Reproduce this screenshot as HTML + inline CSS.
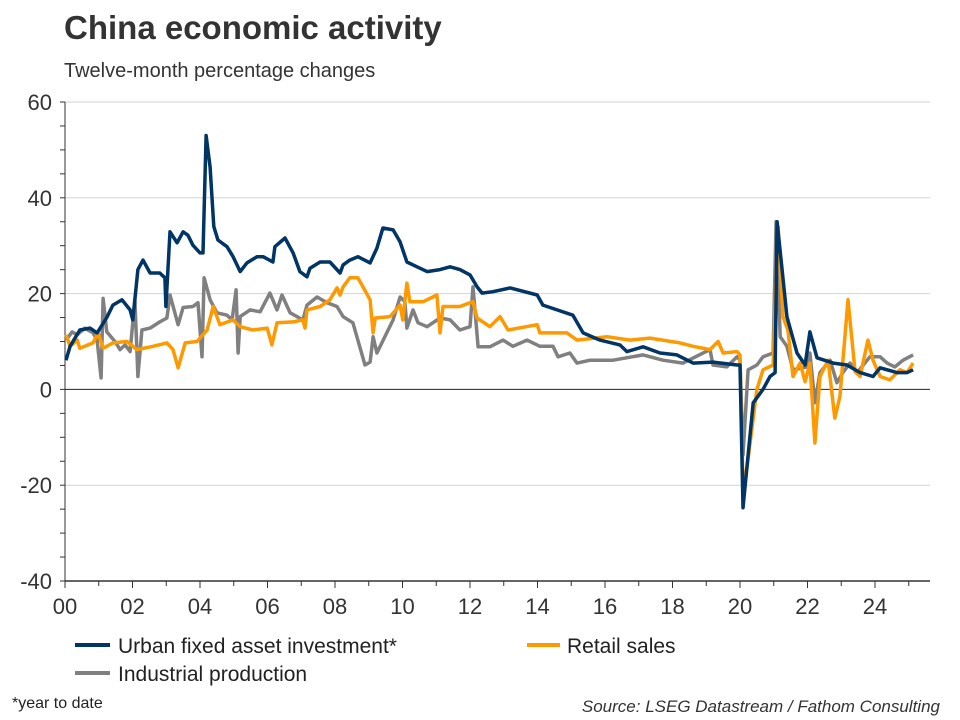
<!DOCTYPE html>
<html><head><meta charset="utf-8"><style>
body{margin:0;width:960px;height:720px;background:#fff;font-family:"Liberation Sans",Arial,sans-serif;overflow:hidden}
svg{position:absolute;left:0;top:0}
</style></head><body>
<svg id="chart" width="960" height="720">
<text x="64" y="39" font-size="33" font-weight="bold" fill="#333">China economic activity</text>
<text x="64" y="77" font-size="20" fill="#333">Twelve-month percentage changes</text>
<g id="grid"></g><g id="axes"></g><g id="series"></g>
<g>
<line x1="75" y1="645" x2="110" y2="645" stroke="#003566" stroke-width="4"/>
<text x="118" y="653" font-size="21" fill="#222">Urban fixed asset investment*</text>
<line x1="527" y1="645" x2="560" y2="645" stroke="#ff9900" stroke-width="4"/>
<text x="567" y="653" font-size="21" fill="#222">Retail sales</text>
<line x1="75" y1="673" x2="110" y2="673" stroke="#808080" stroke-width="4"/>
<text x="118" y="681" font-size="21" fill="#222">Industrial production</text>
</g>
<text x="12" y="708" font-size="16" fill="#222">*year to date</text>
<text x="940" y="712" font-size="17" font-style="italic" fill="#333" text-anchor="end">Source: LSEG Datastream / Fathom Consulting</text>
</svg>
<script>
const yTicks=[60,40,20,0,-20,-40];
const xTickLabels=["00","02","04","06","08","10","12","14","16","18","20","22","24"];
const invDates=[.03,.15,.44,.74,.95,1.24,1.42,1.69,1.93,2.01,2.16,2.31,2.52,2.81,2.96,2.99,3.11,3.32,3.5,3.64,3.79,4.0,4.09,4.18,4.3,4.41,4.53,4.8,4.98,5.19,5.39,5.69,5.87,6.16,6.22,6.52,6.76,6.96,7.17,7.26,7.56,7.85,8.15,8.24,8.44,8.68,9.04,9.24,9.42,9.72,9.93,10.13,10.43,10.73,11.11,11.41,11.7,12.0,12.21,12.36,12.68,13.19,13.99,14.16,14.58,15.05,15.35,15.85,16.44,16.65,17.13,17.63,18.13,18.61,19.2,19.91,20.0,20.09,20.39,20.68,20.89,21.04,21.1,21.24,21.39,21.69,21.93,22.07,22.28,22.76,23.17,23.56,23.94,24.15,24.65,24.95,25.13];
const invValues=[6.1,9,12.4,12.8,11.8,15,17.6,18.7,16.6,14.5,25,27,24.3,24.3,23.3,17.3,32.9,30.6,32.9,32.2,30.1,28.5,28.5,53,46.4,34,31.2,29.8,27.7,24.6,26.4,27.7,27.7,26.6,29.8,31.6,28.5,24.6,23.5,25.3,26.6,26.6,24.3,26,27,27.7,26.4,29.5,33.7,33.3,30.8,26.6,25.6,24.6,25,25.6,25,23.9,21.4,20.1,20.4,21.2,19.7,17.6,16.6,15.5,11.8,10.3,9.3,7.9,8.9,7.6,7.2,5.5,5.7,5.1,5.1,-24.7,-2.8,0,2.7,3.5,35,25.6,15.2,7.6,5.1,12,6.6,5.5,5.1,3.5,2.7,4.5,3.5,3.5,4.1];
const retDates=[.03,.15,.36,.44,.83,.98,1.13,1.42,1.84,2.13,2.61,3.02,3.2,3.35,3.56,3.91,4.21,4.39,4.59,4.98,5.19,5.57,5.99,6.13,6.28,6.76,7.05,7.11,7.17,7.56,7.85,8.06,8.15,8.24,8.44,8.68,8.83,9.04,9.13,9.19,9.63,9.93,10.01,10.13,10.22,10.61,11.02,11.11,11.2,11.7,12.09,12.21,12.59,12.89,13.13,13.99,14.07,14.87,15.17,16.06,16.74,17.33,18.22,18.61,19.11,19.35,19.5,19.91,20.0,20.09,20.21,20.5,20.68,20.98,21.13,21.27,21.42,21.57,21.78,21.93,22.07,22.22,22.37,22.61,22.81,22.96,23.2,23.41,23.56,23.79,23.94,24.15,24.44,24.74,24.95,25.13];
const retValues=[11.4,9,10.3,8.6,9.7,11.8,8.6,9.7,10,8.3,9,9.7,8.3,4.5,9.7,10,12.4,17.3,13.5,14.5,13.1,12.4,12.8,9.3,13.9,14.1,14.5,12.8,16.6,17.3,18.7,21.2,19.7,21.4,23.3,23.3,21.4,18.7,11.8,14.9,15.2,17.6,14.5,22.2,18.3,18.3,19.7,11.8,17.3,17.3,18.3,14.9,13.1,15.2,12.4,13.5,11.8,11.8,10.3,11,10.3,10.7,9.7,9,8.3,10,7.6,7.9,7.2,-20.4,-16.1,0,4.1,5.1,34,15.2,12.4,2.7,5.5,1.6,5.5,-11.2,2.7,6.1,-6,-1.5,18.7,3.7,2.7,10.3,6.1,2.7,2.0,4.1,3.5,5.5];
const indDates=[.03,.21,.36,.59,.83,.95,1.07,1.13,1.24,1.48,1.63,1.78,1.93,2.07,2.16,2.28,2.52,2.81,3.02,3.11,3.35,3.5,3.79,3.94,4.06,4.12,4.3,4.5,4.8,4.95,5.07,5.13,5.19,5.48,5.78,6.07,6.28,6.43,6.67,7.05,7.17,7.47,7.76,8.06,8.24,8.53,8.89,9.04,9.13,9.24,9.72,9.93,10.07,10.13,10.31,10.46,10.73,11.11,11.41,11.7,12.0,12.09,12.24,12.59,12.98,13.27,13.69,14.07,14.46,14.61,14.96,15.17,15.56,16.24,17.13,17.72,18.31,19.11,19.2,19.61,19.91,20.0,20.09,20.24,20.5,20.68,20.98,21.07,21.19,21.39,21.57,21.99,22.07,22.22,22.37,22.67,22.87,23.05,23.26,23.47,23.85,24.15,24.36,24.59,24.83,25.13];
const indValues=[10.3,12,11.4,12.8,11.8,10.3,2.4,19,12,10,8.3,9.3,7.9,18.7,2.7,12.4,12.8,14.1,14.9,19.7,13.5,17.1,17.3,18.1,6.8,23.3,18.7,16,15.5,14.5,20.8,7.6,15.2,16.6,16.2,20.1,16.6,19.7,16,14.5,17.6,19.3,18.1,17.3,15.2,13.9,5.1,5.7,11,7.6,14.5,19.3,18.3,12.8,16.6,13.9,13.1,14.9,14.5,12.4,13.1,21.4,8.9,8.9,10.3,9,10.3,9,9,6.8,7.6,5.5,6.1,6.1,7.2,6.1,5.5,8.3,5.1,4.7,6.8,6.1,-13.7,4.1,5.1,6.8,7.6,35,11,9,4.1,4.7,7.6,-2.8,3.5,6.1,1.4,3.5,5.5,3.5,6.8,6.8,5.5,4.7,6.1,7.2];

const NS='http://www.w3.org/2000/svg';
const L=65,R=930,T=102,B=581,ymin=-40,ymax=60;
const xScale=t=>L+t*33.75;
const yScale=v=>B-(v-ymin)/(ymax-ymin)*(B-T);
function mk(tag,attrs,parent){const e=document.createElementNS(NS,tag);for(const k in attrs)e.setAttribute(k,attrs[k]);parent.appendChild(e);return e;}
const grid=document.getElementById('grid'),axes=document.getElementById('axes'),ser=document.getElementById('series');
yTicks.forEach(v=>{
  const y=yScale(v);
  if(v!==0&&v!==ymin){const g=mk('line',{x1:L,x2:R,y1:y,y2:y,stroke:'#d0d4d4','stroke-width':1},grid);
  
  }
  const t=mk('text',{x:52,y:y+8,'font-size':22,'text-anchor':'end',fill:'#333'},axes);
  t.textContent=v;
  
  
});
for(let v=ymin;v<=ymax;v+=5){const y=yScale(v);const tk=mk('line',{x1:L-5,x2:L,y1:y,y2:y,stroke:'#333','stroke-width':1},axes);

}
const ya=mk('line',{x1:L,x2:L,y1:T,y2:B,stroke:'#333','stroke-width':1},axes);


const zl=mk('line',{x1:L,x2:R,y1:yScale(0),y2:yScale(0),stroke:'#222','stroke-width':1},axes);


const xa=mk('line',{x1:L,x2:R,y1:B,y2:B,stroke:'#333','stroke-width':1.5},axes);


for(let i=0;i<=25;i++){const x=xScale(i);const tk=mk('line',{x1:x,x2:x,y1:B,y2:B+(i%2===0?7:5),stroke:'#333','stroke-width':1},axes);

}
xTickLabels.forEach((s,i)=>{const t=mk('text',{x:xScale(i*2),y:B+33,'font-size':22,'text-anchor':'middle',fill:'#333'},axes);
t.textContent=s;

});
function line(d,v,color,name){
  const p=d.map((t,i)=>(i?'L':'M')+xScale(t).toFixed(1)+','+yScale(v[i]).toFixed(1)).join('');
  const e=mk('path',{d:p,fill:'none',stroke:color,'stroke-width':3.5,'stroke-linejoin':'round'},ser);
  
  
}
line(indDates,indValues,'#808080','industrial-production-line');
line(retDates,retValues,'#ff9900','retail-sales-line');
line(invDates,invValues,'#003566','investment-line');
</script>
</body></html>
